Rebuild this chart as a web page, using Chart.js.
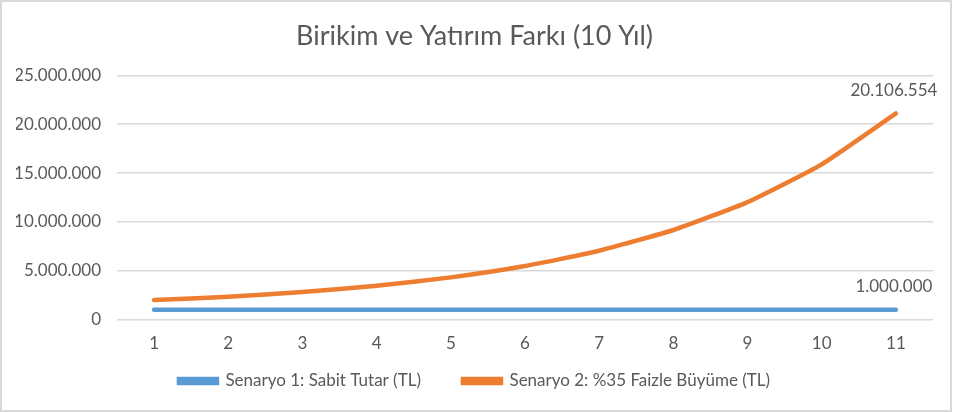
<!DOCTYPE html>
<html><head><meta charset="utf-8">
<script src="https://cdn.jsdelivr.net/npm/chart.js@4"></script>
<style>
html,body{margin:0;padding:0;background:#fff;}
#wrap{position:absolute;left:0;top:0;width:952px;height:412px;box-sizing:border-box;border:2px solid #d9d9d9;}
canvas{display:block;}
</style></head><body>
<div id="wrap"><canvas id="c" width="948" height="408"></canvas></div>
<script>
const categories = ['1','2','3','4','5','6','7','8','9','10','11'];
const seriesNames = ['Senaryo 1: Sabit Tutar (TL)', 'Senaryo 2: %35 Faizle Büyüme (TL)'];
const sabitTutar = [1000000,1000000,1000000,1000000,1000000,1000000,1000000,1000000,1000000,1000000,1000000];
const faizleBuyume = [1000000,1350000,1822500,2460375,3321506,4484033,6053445,8172151,11032404,14893745,20106554];
const yTicks = [0,5000000,10000000,15000000,20000000,25000000];
const titleText = 'Birikim ve Yatırım Farkı (10 Yıl)';

function fmt(v){ return String(Math.round(v)).replace(/\B(?=(\d{3})+(?!\d))/g,'.'); }

const FONT = 'Lato, "Open Sans", sans-serif';
const GRAY = '#595959';
const LEGEND_PAD = 42;
const LEGEND_FONT = 17;

const lastLabels = {
  id:'lastLabels',
  afterDatasetsDraw(chart){
    const ctx = chart.ctx;
    ctx.save();
    ctx.font = '17px ' + FONT;
    ctx.fillStyle = GRAY;
    ctx.textAlign = 'center';
    ctx.textBaseline = 'middle';
    chart.data.datasets.forEach((ds,i)=>{
      const meta = chart.getDatasetMeta(i);
      const n = ds.data.length-1;
      const p = meta.data[n];
      ctx.fillText(fmt(ds.data[n]), p.x-2, p.y-23);
    });
    ctx.restore();
  }
};

// place legend row: item centre at canvas y 379
const legendPlace = {
  id:'legendPlace',
  afterLayout(chart){
    const lg = chart.legend;
    if(!lg) return;
    lg.top = 379 - LEGEND_PAD - LEGEND_FONT/2;
    lg.bottom = chart.height;
    lg.height = lg.bottom - lg.top;
  }
};

new Chart(document.getElementById('c'), {
  type:'line',
  data:{
    labels: categories,
    datasets:[
      {label: seriesNames[0], data: sabitTutar, borderColor:'#5b9bd5', backgroundColor:'#5b9bd5', borderWidth:4.5, pointRadius:0, tension:0, borderCapStyle:'round', fill:false},
      {label: seriesNames[1], data: faizleBuyume, borderColor:'#ed7d31', backgroundColor:'#ed7d31', borderWidth:4.5, pointRadius:0, tension:0.15, borderCapStyle:'round', fill:false}
    ]
  },
  options:{
    responsive:false,
    animation:false,
    layout:{padding:{left:14,right:17,top:0,bottom:2}},
    plugins:{
      title:{display:true,text:titleText,color:GRAY,font:{family:FONT,size:27,weight:'normal'},padding:{top:18,bottom:23}},
      legend:{position:'bottom',maxHeight:40,labels:{color:GRAY,font:{family:FONT,size:LEGEND_FONT},boxWidth:38,boxHeight:4,padding:LEGEND_PAD}},
      tooltip:{enabled:false}
    },
    scales:{
      x:{offset:true,grid:{display:false,drawTicks:false},border:{display:false},
         ticks:{color:GRAY,font:{family:FONT,size:17},padding:14}},
      y:{stacked:true,min:0,max:25000000,
         afterBuildTicks(s){ s.ticks = yTicks.map(v=>({value:v})); },
         afterFit(s){ s.width = 101; },
         grid:{color:'#d9d9d9',lineWidth:1.5,drawTicks:false},border:{display:false},
         ticks:{color:GRAY,font:{family:FONT,size:17},padding:16,callback:v=>fmt(v)}}
    }
  },
  plugins:[lastLabels, legendPlace]
});
</script>
</body></html>
